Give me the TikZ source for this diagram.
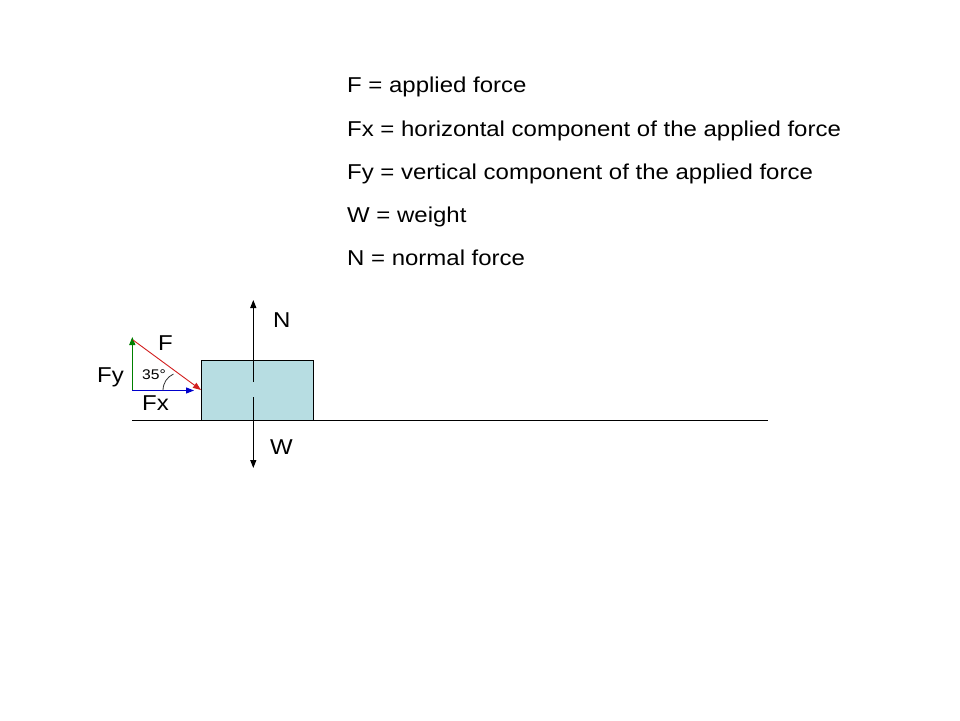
\documentclass[tikz,border=0pt]{standalone}
\usepackage{fontspec}
\setmainfont[FakeStretch=1.115]{Liberation Sans}
\usetikzlibrary{arrows.meta}
\definecolor{boxfill}{RGB}{183,221,226}
\definecolor{fgreen}{RGB}{0,128,0}
\definecolor{fblue}{RGB}{0,0,204}
\definecolor{fred}{RGB}{210,30,30}
\begin{document}
\begin{tikzpicture}[x=1pt,y=-1pt,
  lbl/.style={anchor=base west,inner sep=0pt,font=\fontsize{21.5}{26}\selectfont},
  small/.style={anchor=base west,inner sep=0pt,font=\fontsize{14}{17}\selectfont},
  vec/.style={line width=1.1pt,-{Triangle[length=8pt,width=6pt]}},
  blk/.style={draw=black,line width=1pt,fill=boxfill,minimum width=112pt,minimum height=60pt,inner sep=0pt}]
\useasboundingbox[fill=white] (0,0) rectangle (960,720);
% legend
\node[lbl] (l1) at (347,92.7) {F = applied force};
\node[lbl] (l2) at (347,136) {Fx = horizontal component of the applied force};
\node[lbl] (l3) at (347,179.2) {Fy = vertical component of the applied force};
\node[lbl] (l4) at (347,222.4) {W = weight};
\node[lbl] (l5) at (347,265.6) {N = normal force};
% ground
\coordinate (g1) at (132,420.5);
\coordinate (g2) at (768,420.5);
\draw[line width=1.3pt] (g1) -- (g2);
% block
\node[blk] (box) at (257,390) {};
% N and W
\coordinate (n0) at (253.3,382);
\coordinate (n1) at (253.3,300);
\coordinate (w0) at (253.3,397);
\coordinate (w1) at (253.3,468);
\draw[vec,black] (n0) -- (n1);
\draw[vec,black] (w0) -- (w1);
\node[lbl] (N) at (273,327) {N};
\node[lbl] (W) at (270,454) {W};
% components
\coordinate (o) at (132.3,390.5);
\coordinate (fy) at (132.3,337);
\coordinate (fx) at (194,390.5);
\coordinate (f0) at (133,340);
\coordinate (f1) at (201,390);
\draw[vec,fgreen] (o) -- (fy);
\draw[vec,fblue] (o) -- (fx);
\draw[line width=0.9pt,fred,-{Triangle[length=8pt,width=6pt]}] (f0) -- (f1);
\coordinate (a0) at (163,390.5);
\coordinate (a1) at (173.5,374);
\draw[line width=0.8pt,black!80] (a0) .. controls (163,383) and (167,377) .. (a1);
\node[small] (ang) at (142,379.5) {35°};
\node[lbl] (F) at (158,350) {F};
\node[lbl] (Fy) at (97,382) {Fy};
\node[lbl] (Fx) at (142,410) {Fx};
\end{tikzpicture}
\end{document}
